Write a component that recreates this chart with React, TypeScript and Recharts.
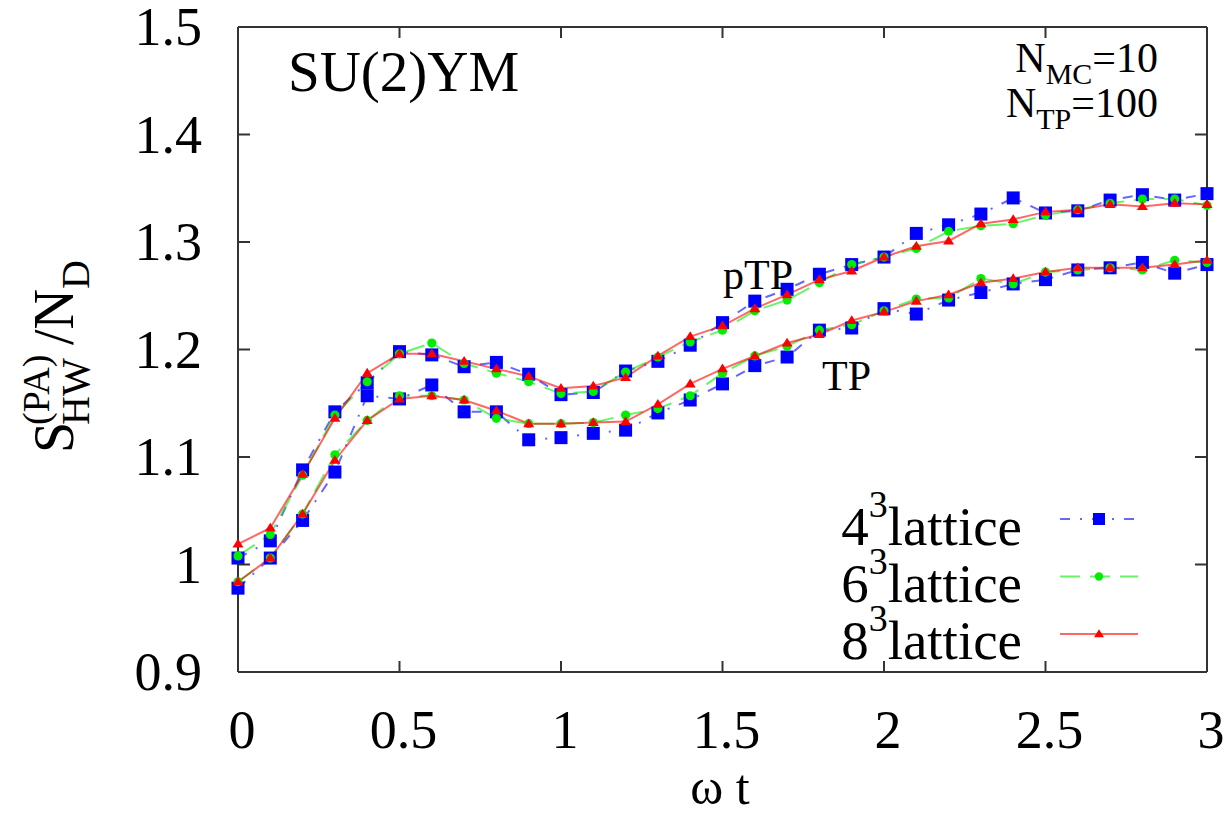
import { LineChart, Line, XAxis, YAxis, Legend } from "recharts";

const T = [
  0, 0.1, 0.2, 0.3, 0.4, 0.5, 0.6, 0.7, 0.8, 0.9, 1.0, 1.1, 1.2, 1.3, 1.4, 1.5,
  1.6, 1.7, 1.8, 1.9, 2.0, 2.1, 2.2, 2.3, 2.4, 2.5, 2.6, 2.7, 2.8, 2.9, 3.0,
];

// pTP (upper curves)
const P4 = [
  1.006, 1.022, 1.088, 1.142, 1.169, 1.198, 1.195, 1.184, 1.188, 1.177, 1.158,
  1.16, 1.18, 1.189, 1.204, 1.225, 1.245, 1.256, 1.27, 1.279, 1.286, 1.308,
  1.316, 1.326, 1.341, 1.327, 1.329, 1.339, 1.344, 1.339, 1.345,
];
const P6 = [
  1.008, 1.028, 1.083, 1.139, 1.17, 1.196, 1.206, 1.187, 1.178, 1.17, 1.159,
  1.161, 1.179, 1.193, 1.207, 1.218, 1.236, 1.246, 1.262, 1.279, 1.286, 1.294,
  1.31, 1.315, 1.317, 1.325, 1.33, 1.336, 1.34, 1.34, 1.334,
];
const P8 = [
  1.019, 1.034, 1.084, 1.136, 1.178, 1.196, 1.196, 1.189, 1.182, 1.175, 1.164,
  1.166, 1.174, 1.194, 1.212, 1.222, 1.238, 1.251, 1.265, 1.273, 1.286, 1.296,
  1.301, 1.317, 1.321, 1.328, 1.33, 1.335, 1.333, 1.336, 1.335,
];

// TP (lower curves)
const T4 = [
  0.978, 1.006, 1.041, 1.086, 1.157, 1.154, 1.167, 1.142, 1.142, 1.116, 1.118,
  1.122, 1.125, 1.141, 1.153, 1.168, 1.185, 1.193, 1.218, 1.22, 1.238, 1.233,
  1.246, 1.253, 1.261, 1.265, 1.274, 1.276, 1.281, 1.271, 1.279,
];
const T6 = [
  0.984, 1.006, 1.047, 1.102, 1.134, 1.157, 1.157, 1.153, 1.136, 1.131, 1.131,
  1.132, 1.139, 1.145, 1.157, 1.178, 1.194, 1.203, 1.218, 1.223, 1.236, 1.247,
  1.248, 1.266, 1.261, 1.272, 1.274, 1.276, 1.274, 1.283, 1.281,
];
const T8 = [
  0.984, 1.006, 1.047, 1.097, 1.134, 1.154, 1.157, 1.153, 1.143, 1.131, 1.131,
  1.132, 1.133, 1.149, 1.168, 1.182, 1.194, 1.206, 1.214, 1.227, 1.235, 1.245,
  1.251, 1.262, 1.266, 1.272, 1.276, 1.276, 1.276, 1.279, 1.283,
];

const X_TICKS = [0, 0.5, 1, 1.5, 2, 2.5, 3];
const Y_TICKS = [0.9, 1, 1.1, 1.2, 1.3, 1.4, 1.5];

const data = T.map((t, i) => ({
  t,
  p4: P4[i],
  p6: P6[i],
  p8: P8[i],
  t4: T4[i],
  t6: T6[i],
  t8: T8[i],
}));

const FONT = "'Liberation Serif', 'DejaVu Serif', serif";
const AXIS = "#333";
const BOTTOM_GAP = 76;
const LEFT_GAP = 36;

type Shape = "square" | "circle" | "triangle";

const LATTICES: { n: string; color: string; dash: string; shape: Shape }[] = [
  { n: "4", color: "#0000ff", dash: "10 10 2 10", shape: "square" },
  { n: "6", color: "#00ee00", dash: "20 10", shape: "circle" },
  { n: "8", color: "#ff0000", dash: "", shape: "triangle" },
];

function marker(shape: Shape, color: string, cx: number, cy: number, s: number, key?: any) {
  if (shape === "square")
    return <rect key={key} x={cx - s / 2} y={cy - s / 2} width={s} height={s} fill={color} />;
  if (shape === "circle") return <circle key={key} cx={cx} cy={cy} r={s / 2.4} fill={color} />;
  const h = s * 0.8;
  return (
    <polygon
      key={key}
      points={`${cx},${cy - h * 0.6} ${cx - s / 2},${cy + h * 0.4} ${cx + s / 2},${cy + h * 0.4}`}
      fill={color}
    />
  );
}

const dotFor = (shape: Shape, color: string) => (props: any) => {
  const { cx, cy, index } = props;
  if (cx == null || cy == null) return <g key={index} />;
  return marker(shape, color, cx, cy, shape === "square" ? 13 : 11, index);
};

// inward-pointing tick marks, gnuplot style
const BottomTick = (props: any) => {
  const { x, y, payload } = props;
  const ay = Number(y) - BOTTOM_GAP;
  return (
    <g>
      <path d={`M${x},${ay}V${ay - 11}`} stroke={AXIS} strokeWidth={2} fill="none" />
      <text x={Number(x) + 4} y={y} textAnchor="middle" fontFamily={FONT} fontSize={54} fill="#000">
        {String(payload.value)}
      </text>
    </g>
  );
};
const TopTick = (props: any) => {
  const { x, y } = props;
  return <path d={`M${x},${y}V${Number(y) + 11}`} stroke={AXIS} strokeWidth={2} fill="none" />;
};
const LeftTick = (props: any) => {
  const { x, y, payload } = props;
  const ax = Number(x) + LEFT_GAP;
  return (
    <g>
      <path d={`M${ax},${y}H${ax + 12}`} stroke={AXIS} strokeWidth={2} fill="none" />
      <text x={x} y={y} dy="0.34em" textAnchor="end" fontFamily={FONT} fontSize={54} fill="#000">
        {String(payload.value)}
      </text>
    </g>
  );
};
const RightTick = (props: any) => {
  const { x, y } = props;
  return <path d={`M${x},${y}H${Number(x) - 12}`} stroke={AXIS} strokeWidth={2} fill="none" />;
};

const renderLegend = (props: any) => {
  const items = (props.payload || []).filter((p: any) => p.type !== "none");
  return (
    <svg width={340} height={190} style={{ overflow: "visible" }}>
      {items.map((entry: any, i: number) => {
        const lat = LATTICES.find((l) => l.n === entry.value) || LATTICES[i];
        const ly = 39 + 57.5 * i;
        const by = 65 + 57 * i;
        return (
          <g key={entry.value}>
            <text x={202} y={by} textAnchor="end" fontFamily={FONT} fontSize={55} fill="#000">
              {lat.n}
              <tspan dy={-28} fontSize={38}>3</tspan>
              <tspan dy={28} fontSize={55}>lattice</tspan>
            </text>
            <line
              x1={240}
              x2={318}
              y1={ly}
              y2={ly}
              stroke={lat.color}
              strokeOpacity={0.6}
              strokeWidth={2}
              strokeDasharray={lat.dash || undefined}
            />
            {marker(lat.shape, lat.color, 279, ly, lat.shape === "square" ? 12 : 10)}
          </g>
        );
      })}
    </svg>
  );
};

export default function App() {
  const axisLine = { stroke: AXIS, strokeWidth: 2 };
  return (
    <div style={{ position: "absolute", left: 0, top: 0, width: 1229, height: 815, background: "#fff" }}>
      <LineChart
        width={1229}
        height={815}
        data={data}
        margin={{ top: 26, right: 21, bottom: 0, left: 0 }}
      >
        <XAxis
          xAxisId="bottom"
          dataKey="t"
          type="number"
          domain={[0, 3]}
          ticks={X_TICKS}
          height={143}
          tick={<BottomTick />}
          tickLine={false}
          tickSize={0}
          tickMargin={BOTTOM_GAP}
          axisLine={axisLine}
        />
        <XAxis
          xAxisId="top"
          dataKey="t"
          type="number"
          orientation="top"
          domain={[0, 3]}
          ticks={X_TICKS}
          height={1}
          tick={<TopTick />}
          tickLine={false}
          tickSize={0}
          tickMargin={0}
          axisLine={axisLine}
        />
        <YAxis
          yAxisId="left"
          type="number"
          domain={[0.9, 1.5]}
          ticks={Y_TICKS}
          width={238}
          tick={<LeftTick />}
          tickLine={false}
          tickSize={0}
          tickMargin={LEFT_GAP}
          axisLine={axisLine}
        />
        <YAxis
          yAxisId="right"
          orientation="right"
          type="number"
          domain={[0.9, 1.5]}
          ticks={Y_TICKS}
          width={1}
          tick={<RightTick />}
          tickLine={false}
          tickSize={0}
          tickMargin={0}
          axisLine={axisLine}
        />
        {LATTICES.map((l) => (
          <Line
            key={"p" + l.n}
            xAxisId="bottom"
            yAxisId="left"
            dataKey={"p" + l.n}
            name={l.n}
            stroke={l.color}
            strokeOpacity={0.6}
            strokeWidth={2}
            strokeDasharray={l.dash || undefined}
            dot={dotFor(l.shape, l.color)}
            activeDot={false}
            isAnimationActive={false}
          />
        ))}
        {/* TP curves go through the top/right axes, which have the same domains */}
        {LATTICES.map((l) => (
          <Line
            key={"t" + l.n}
            xAxisId="top"
            yAxisId="right"
            dataKey={"t" + l.n}
            name={"TP " + l.n}
            legendType="none"
            stroke={l.color}
            strokeOpacity={0.6}
            strokeWidth={2}
            strokeDasharray={l.dash || undefined}
            dot={dotFor(l.shape, l.color)}
            activeDot={false}
            isAnimationActive={false}
          />
        ))}
        <Legend
          layout="vertical"
          align="center"
          verticalAlign="middle"
          wrapperStyle={{ left: 820, top: 480, width: 340, height: 190 }}
          content={renderLegend}
        />
      </LineChart>
      <svg
        width={1229}
        height={815}
        style={{ position: "absolute", left: 0, top: 0, pointerEvents: "none" }}
      >
        <text x={288} y={91} fontFamily={FONT} fontSize={57} fill="#000">
          SU(2)YM
        </text>
        <text x={1158} y={72} textAnchor="end" fontFamily={FONT} fontSize={42} fill="#000">
          N<tspan dy={12} fontSize={30}>MC</tspan>
          <tspan dy={-12} fontSize={42}>=10</tspan>
        </text>
        <text x={1158} y={117} textAnchor="end" fontFamily={FONT} fontSize={42} fill="#000">
          N<tspan dy={12} fontSize={30}>TP</tspan>
          <tspan dy={-12} fontSize={42}>=100</tspan>
        </text>
        <text x={723} y={289} fontFamily={FONT} fontSize={42} fill="#000">
          pTP
        </text>
        <text x={822} y={390} fontFamily={FONT} fontSize={42} fill="#000">
          TP
        </text>
        <g transform="translate(73,453) rotate(-90)" fontFamily={FONT} fill="#000">
          <text x={0} y={0} fontSize={56}>S</text>
          <text x={28} y={-24} fontSize={38}>(PA)</text>
          <text x={28} y={16} fontSize={40}>HW</text>
          <text x={108} y={0} fontSize={56}>/N</text>
          <text x={164} y={16} fontSize={40}>D</text>
        </g>
        <text x={720} y={804} textAnchor="middle" fontFamily={FONT} fontSize={50} fill="#000">
          ω t
        </text>
      </svg>
    </div>
  );
}
